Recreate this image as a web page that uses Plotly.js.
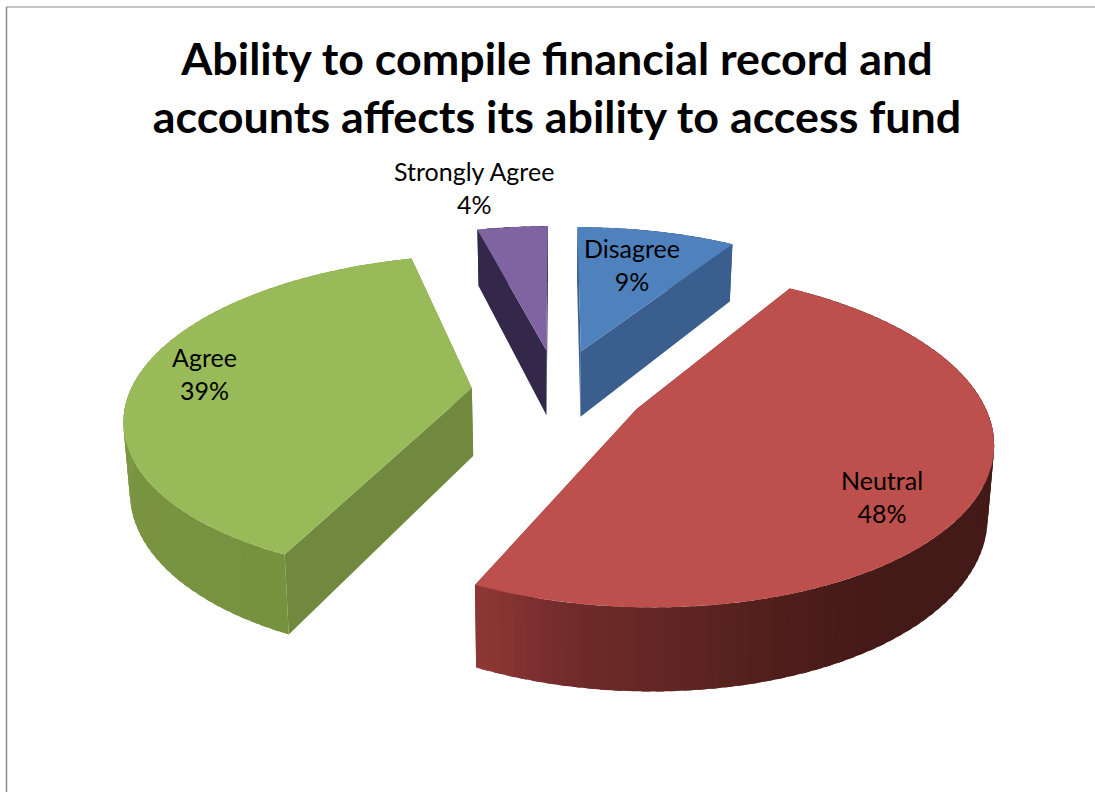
<!DOCTYPE html>
<html>
<head>
<meta charset="utf-8">
<script src="https://cdn.plot.ly/plotly-3.0.1.min.js"></script>
<style>html,body{margin:0;padding:0;background:#fff;overflow:hidden}#chart{width:1095px;height:792px}</style>
</head>
<body>
<div id="chart"></div>
<script>
// Survey responses, clockwise from twelve o'clock
const categories = ['Disagree', 'Neutral', 'Agree', 'Strongly Agree'];
const percents = [9, 48, 39, 4];

const topColors = ['#4f81bd', '#bd4f4c', '#98ba59', '#8064a2'];
const wallColors = ['#3a5f8e', '#8a3533', '#71893f', '#33284a'];
// Rim shading from the start angle to the end angle of each slice
const rimStops = [
  ['#3a5f8e', '#3a5f8e'],
  ['#431a18', '#431a18', '#431a18', '#431a18', '#431a18', '#431a18', '#431a18',
   '#431a18', '#451a18', '#4f1e1b', '#602523', '#702b2a', '#8f3836'],
  ['#76923f', '#7a9442', '#85a04a', '#8aa64d'],
  ['#33284a', '#33284a']
];
// Label placement: radius in slice units along the mid-angle, plus a small nudge
const labelRadius = [0.6, 0.85, 0.77, 1.3];
const labelNudge = [[3, -11], [-41, 15], [-10, -4], [-30, -9]];
// Small screen offset applied to a whole slice
const sliceShift = [[0, 0], [0, 0], [3, 3], [0, 0]];

// Camera for the tilted pie
const cam = {cx: 557, cy: 389, rx: 342, ry: 157, persp: 0.17, depth: 68, taper: 0.015, explode: 0.26};

function project(X, Y, z) {
  const w = 1 + cam.persp * Y;
  const shrink = 1 - cam.taper * z;
  return [cam.cx + shrink * cam.rx * X / w, cam.cy - cam.ry * Y / w + z * cam.depth / w];
}

function hexRgb(h) { return [1, 3, 5].map(i => parseInt(h.substr(i, 2), 16)); }
function ramp(stops, t) {
  const s = Math.min(Math.max(t, 0), 1) * (stops.length - 1);
  const i = Math.min(Math.floor(s), stops.length - 2);
  const a = hexRgb(stops[i]), b = hexRgb(stops[i + 1]);
  const c = a.map((v, k) => Math.round(v + (b[k] - v) * (s - i)));
  return 'rgb(' + c.join(',') + ')';
}
function poly(points, color) {
  const xs = points.map(p => p[0]), ys = points.map(p => p[1]);
  xs.push(xs[0]); ys.push(ys[0]);
  return {x: xs, y: ys, type: 'scatter', mode: 'lines', fill: 'toself', fillcolor: color,
          line: {width: 0}, hoverinfo: 'skip', showlegend: false};
}

const traces = [];
const annotations = [];
const total = percents.reduce((a, b) => a + b, 0);
let running = 0;

percents.forEach((pct, i) => {
  const a0 = running / total * 2 * Math.PI;
  running += pct;
  const a1 = running / total * 2 * Math.PI;
  const mid = (a0 + a1) / 2;
  const ox = cam.explode * Math.sin(mid), oy = cam.explode * Math.cos(mid);
  const at = (ang, r, z) => {
    const p = project(ox + r * Math.sin(ang), oy + r * Math.cos(ang), z);
    return [p[0] + sliceShift[i][0], p[1] + sliceShift[i][1]];
  };

  // Radial walls first, then the rim, then the lid on top
  traces.push(poly([at(a0, 0, 0), at(a0, 1, 0), at(a0, 1, 1), at(a0, 0, 1)], wallColors[i]));
  traces.push(poly([at(a1, 0, 0), at(a1, 1, 0), at(a1, 1, 1), at(a1, 0, 1)], wallColors[i]));
  const steps = Math.max(4, Math.round((a1 - a0) * 30));
  const overlap = (a1 - a0) / steps * 0.6;
  for (let k = 0; k < steps; k++) {
    // Each band runs slightly under the next so no seams show between them
    const u = a0 + (a1 - a0) * k / steps;
    const v = Math.min(a1, a0 + (a1 - a0) * (k + 1) / steps + overlap);
    traces.push(poly([at(u, 1, 0), at(v, 1, 0), at(v, 1, 1), at(u, 1, 1)],
                     ramp(rimStops[i], (k + 0.5) / steps)));
  }
  const lid = [at(a0, 0, 0)];
  const arc = Math.max(8, Math.round((a1 - a0) * 40));
  for (let k = 0; k <= arc; k++) lid.push(at(a0 + (a1 - a0) * k / arc, 1, 0));
  traces.push(poly(lid, topColors[i]));

  const lab = at(mid, labelRadius[i], 0);
  annotations.push({
    x: lab[0] + labelNudge[i][0], y: lab[1] + labelNudge[i][1], xref: 'x', yref: 'y',
    text: categories[i] + '<br>' + pct + '%', showarrow: false,
    font: {family: 'Lato, sans-serif', size: 25, color: '#000'}, align: 'center'
  });
});

const hidden = {visible: false, fixedrange: true};
const layout = {
  width: 1095, height: 792,
  margin: {l: 0, r: 0, t: 0, b: 0},
  paper_bgcolor: '#fff', plot_bgcolor: '#fff',
  title: {
    text: 'Ability to compile financial record and<br>accounts affects its ability to access fund',
    font: {family: 'Lato, sans-serif', size: 44.8, color: '#000', weight: 700},
    x: 557 / 1095, xanchor: 'center', xref: 'paper',
    y: 1 - 75 / 792, yanchor: 'top', yref: 'paper'
  },
  xaxis: Object.assign({range: [0, 1095]}, hidden),
  yaxis: Object.assign({range: [792, 0]}, hidden),
  annotations: annotations,
  shapes: [
    {type: 'line', xref: 'paper', yref: 'paper', x0: 6.5 / 1095, x1: 6.5 / 1095, y0: 0, y1: 1 - 7 / 792, line: {color: '#8a8a8a', width: 1.5}},
    {type: 'line', xref: 'paper', yref: 'paper', x0: 6 / 1095, x1: 1, y0: 1 - 7 / 792, y1: 1 - 7 / 792, line: {color: '#8a8a8a', width: 1}}
  ],
  showlegend: false
};
Plotly.newPlot('chart', traces, layout, {displayModeBar: false, staticPlot: true});
</script>
</body>
</html>
